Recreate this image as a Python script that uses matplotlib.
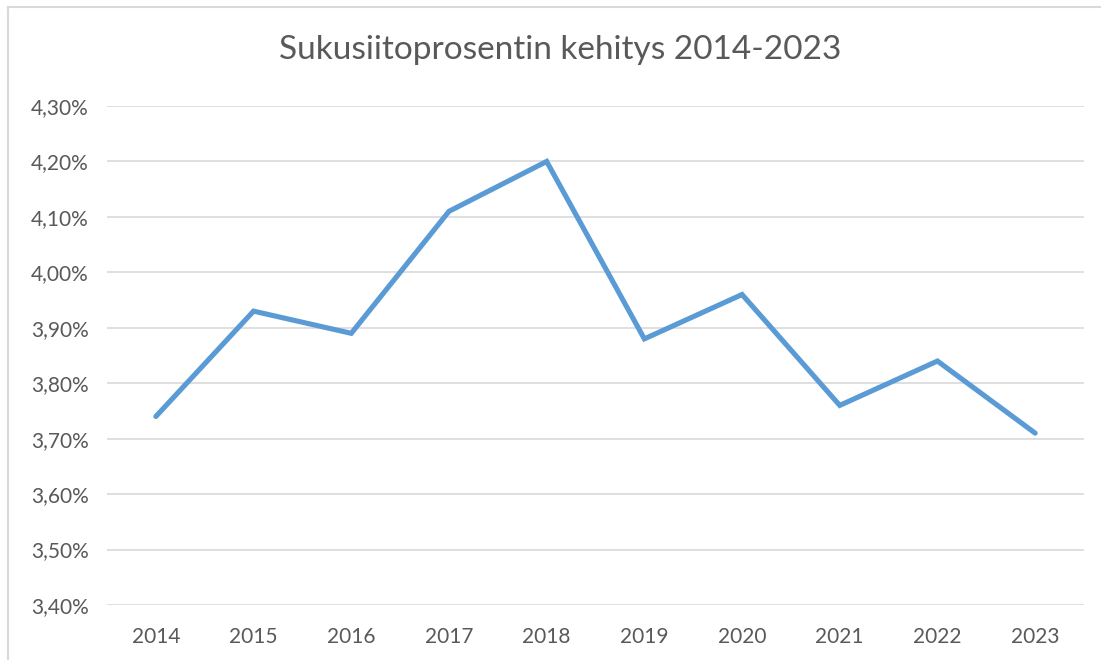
import numpy as np
import matplotlib.pyplot as plt
from matplotlib.lines import Line2D
from matplotlib.ticker import FuncFormatter

# data
years = ['2014', '2015', '2016', '2017', '2018', '2019', '2020', '2021', '2022', '2023']
inbreeding = [3.74, 3.93, 3.89, 4.11, 4.20, 3.88, 3.96, 3.76, 3.84, 3.71]
yticks = [3.40, 3.50, 3.60, 3.70, 3.80, 3.90, 4.00, 4.10, 4.20, 4.30]

plt.rcParams['font.family'] = ['Lato', 'DejaVu Sans']
txt = '#595959'
grid = '#d9d9d9'

fig = plt.figure(figsize=(11.01, 6.6), dpi=100)
ax = fig.add_axes([107/1101, 1 - 605/660, (1084 - 107)/1101, (605 - 106)/660])

x = np.arange(len(years))
ax.plot(x, inbreeding, color='#5b9bd5', linewidth=3.7, solid_capstyle='round',
        solid_joinstyle='miter', zorder=3)

ax.set_xlim(-0.5, len(years) - 0.5)
ax.set_ylim(yticks[0], yticks[-1])
ax.set_xticks(x)
ax.set_xticklabels(years)
ax.set_yticks(yticks)
ax.yaxis.set_major_formatter(FuncFormatter(lambda v, p: f'{v:.2f}%'.replace('.', ',')))
ax.tick_params(length=0, labelsize=15, colors=txt, pad=13)
ax.tick_params(axis='x', pad=16)
ax.grid(axis='y', color=grid, linewidth=1.2)
for s in ax.spines.values():
    s.set_visible(False)

fig.suptitle('Sukusiitoprosentin kehitys 2014-2023', x=560/1101, y=1 - 50/660,
             va='center', fontsize=24, color=txt)

# chart frame (left and top edges visible)
fig.add_artist(Line2D([8/1101, 8/1101], [0, 1 - 7/660], transform=fig.transFigure,
                      color=grid, linewidth=1.5))
fig.add_artist(Line2D([8/1101, 1], [1 - 7/660, 1 - 7/660], transform=fig.transFigure,
                      color=grid, linewidth=1.5))

fig.savefig('out.png', dpi=100)
